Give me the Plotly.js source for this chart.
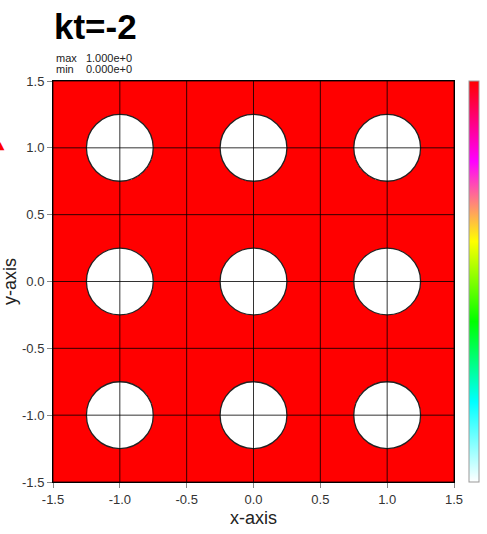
<!DOCTYPE html>
<html>
<head>
<meta charset="utf-8">
<script src="https://cdn.plot.ly/plotly-3.0.1.min.js"></script>
<style>html,body{margin:0;padding:0;background:#fff;}#chart{width:487px;height:534px;}</style>
</head>
<body>
<div id="chart"></div>
<script>
// ---- data ----
var titleText = "kt=-2";
var fieldMax = 1.0;
var fieldMin = 0.0;
var circleCentersX = [-1.0, 0.0, 1.0];
var circleCentersY = [-1.0, 0.0, 1.0];
var circleRadius = 0.25;
var tickValues = [-1.5, -1.0, -0.5, 0.0, 0.5, 1.0, 1.5];
var tickLabels = ["-1.5", "-1.0", "-0.5", "0.0", "0.5", "1.0", "1.5"];
var gridX = [];
var gridY = [];
var nGrid = 401;
for (var i = 0; i < nGrid; i++) { gridX.push(-1.5 + 3 * i / (nGrid - 1)); gridY.push(-1.5 + 3 * i / (nGrid - 1)); }

// field: fieldMin inside the circles, fieldMax outside
var z = gridY.map(function (yy) {
  return gridX.map(function (xx) {
    var inside = false;
    circleCentersX.forEach(function (cx) {
      circleCentersY.forEach(function (cy) {
        if ((xx - cx) * (xx - cx) + (yy - cy) * (yy - cy) <= circleRadius * circleRadius) inside = true;
      });
    });
    return inside ? fieldMin : fieldMax;
  });
});

var colorscale = [
  [0.0, "#ffffff"],
  [0.2, "#00ffff"],
  [0.4, "#00ff00"],
  [0.6, "#ffff00"],
  [0.8, "#ff00ff"],
  [1.0, "#ff0000"]
];

// layout geometry (pixels)
var W = 487, H = 534, ML = 53, MR = 0, MT = 81, MB = 52;
var paperW = W - ML - MR;
var plotW = 401;
function px(p) { return (p - ML) / paperW; }

var trace = {
  type: "heatmap",
  x: gridX, y: gridY, z: z,
  zmin: fieldMin, zmax: fieldMax,
  colorscale: colorscale,
  zsmooth: false,
  hoverinfo: "skip",
  colorbar: {
    thickness: 10, thicknessmode: "pixels",
    len: 1, lenmode: "fraction",
    x: px(469), xanchor: "left", xpad: 0,
    y: 0.5, yanchor: "middle", ypad: 0,
    outlinecolor: "#999", outlinewidth: 1,
    showticklabels: false, ticks: ""
  }
};

var shapes = [];
circleCentersX.forEach(function (cx) {
  circleCentersY.forEach(function (cy) {
    shapes.push({
      type: "circle", xref: "x", yref: "y",
      x0: cx - circleRadius, x1: cx + circleRadius,
      y0: cy - circleRadius, y1: cy + circleRadius,
      fillcolor: "#ffffff", line: {color: "#222", width: 1.3}, layer: "above"
    });
  });
});
tickValues.forEach(function (t) {
  shapes.push({type: "line", xref: "x", yref: "y domain", x0: t, x1: t, y0: 0, y1: 1,
    line: {color: "rgba(0,0,0,0.8)", width: 1}, layer: "above"});
  shapes.push({type: "line", xref: "x domain", yref: "y", x0: 0, x1: 1, y0: t, y1: t,
    line: {color: "rgba(0,0,0,0.8)", width: 1}, layer: "above"});
});

var font = "Liberation Sans, Arial, sans-serif";
var axisCommon = {
  range: [-1.5, 1.5],
  tickvals: tickValues, ticktext: tickLabels,
  ticks: "outside", ticklen: 5, tickcolor: "#888", tickwidth: 1,
  showgrid: false, zeroline: false,
  showline: true, linecolor: "#000", linewidth: 1, mirror: true,
  tickfont: {family: font, size: 13, color: "#333"},
  layer: "above traces"
};

var layout = {
  width: W, height: H,
  margin: {l: ML, r: MR, t: MT, b: MB},
  paper_bgcolor: "#fff", plot_bgcolor: "#fff",
  showlegend: false,
  xaxis: Object.assign({}, axisCommon, {
    domain: [0, plotW / paperW],
    title: {text: "x-axis", font: {family: font, size: 18, color: "#222"}, standoff: 5}
  }),
  yaxis: Object.assign({}, axisCommon, {
    title: {text: "y-axis", font: {family: font, size: 18, color: "#222"}, standoff: 5}
  }),
  shapes: shapes,
  annotations: [
    {text: "<b>" + titleText + "</b>", xref: "paper", yref: "paper", x: px(52), y: 1.0, yshift: 33,
     xanchor: "left", yanchor: "bottom", showarrow: false,
     font: {family: font, size: 35, color: "#000"}},
    {text: "max&nbsp;&nbsp;&nbsp;" + fieldMax.toExponential(3),
     xref: "paper", yref: "paper", x: px(54), y: 1.0, yshift: 23,
     xanchor: "left", yanchor: "middle", align: "left", showarrow: false,
     font: {family: font, size: 11, color: "#222"}},
    {text: "min&nbsp;&nbsp;&nbsp;&nbsp;" + fieldMin.toExponential(3),
     xref: "paper", yref: "paper", x: px(54), y: 1.0, yshift: 12,
     xanchor: "left", yanchor: "middle", align: "left", showarrow: false,
     font: {family: font, size: 11, color: "#222"}},
    {text: "▲", xref: "paper", yref: "paper", x: px(0), y: 0.838,
     xanchor: "center", yanchor: "middle", showarrow: false,
     font: {family: "DejaVu Sans, sans-serif", size: 11, color: "#ff0000"}}
  ]
};

Plotly.newPlot("chart", [trace], layout, {displayModeBar: false, staticPlot: true});
</script>
</body>
</html>
